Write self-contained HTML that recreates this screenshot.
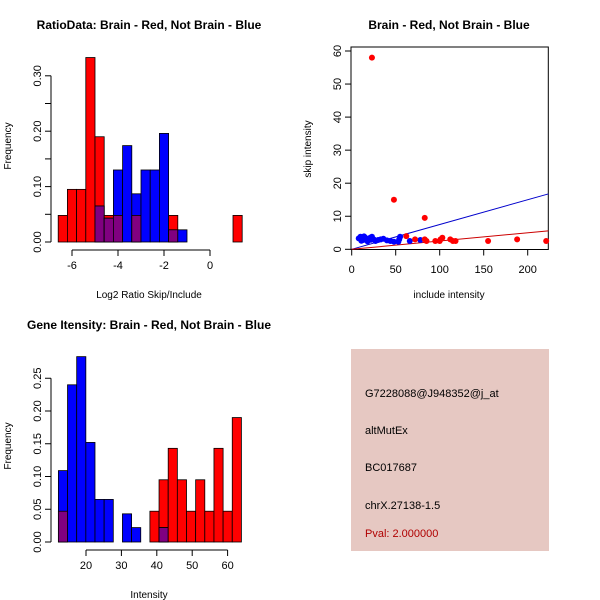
<!DOCTYPE html>
<html><head><meta charset="utf-8"><style>
body{margin:0;background:#fff;}
svg{display:block;font-family:"Liberation Sans",sans-serif;}
</style></head><body>
<svg id="c" width="600" height="600" viewBox="0 0 600 600">
<rect width="600" height="600" fill="#fff"/>
<g id="p1"></g>
<g id="p2"></g>
<g id="p3"></g>
<g>
<rect x="351" y="349" width="198" height="202" fill="#e6c8c2"/>
<text x="365" y="397" font-size="11">G7228088@J948352@j_at</text>
<text x="365" y="434" font-size="11">altMutEx</text>
<text x="365" y="471" font-size="11">BC017687</text>
<text x="365" y="509" font-size="11">chrX.27138-1.5</text>
<text x="365" y="537" font-size="11" fill="#b00000">Pval: 2.000000</text>
</g>
</svg>
<script>
// ---- Ratio histogram data ----
const ratioBinStart = -6.6, ratioBinWidth = 0.4;
const ratioRed  = [0.048,0.095,0.095,0.333,0.19,0.048,0.048,0,0.048,0,0,0,0.048,0,0,0,0,0,0,0.048];
const ratioBlue = [0,0,0,0,0.065,0.043,0.13,0.174,0.087,0.13,0.13,0.196,0.022,0.022,0,0,0,0,0,0];
const ratioXTicks = [-6,-4,-2,0];
const ratioYTicks = [0,0.05,0.10,0.15,0.20,0.25,0.30];
const ratioYLabels = ["0.00","","0.10","","0.20","","0.30"];
// ---- Gene intensity histogram data ----
const intBinStart = 12.2, intBinWidth = 2.585;
const intRed  = [0.047,0,0,0,0,0,0,0,0,0,0.047,0.095,0.143,0.095,0.047,0.095,0.047,0.143,0.047,0.19];
const intBlue = [0.109,0.24,0.283,0.152,0.065,0.065,0,0.043,0.022,0,0,0.022,0,0,0,0,0,0,0,0];
const intXTicks = [20,30,40,50,60];
const intYTicks = [0,0.05,0.10,0.15,0.20,0.25];
const intYLabels = ["0.00","0.05","0.10","0.15","0.20","0.25"];
// ---- Scatter data ----
const redX = [23,48,83,62,72,83,85,95,100,103,101,112,115,118,155,188,221];
const redY = [58,15,9.5,4,3,3,2.5,2.5,2.5,3.5,3,3,2.5,2.5,2.5,3,2.5];
const blueX = [8,10,12,13,15,17,19,21,23,25,27,30,33,36,40,44,48,53,55,54,66,78,11,14,18,22];
const blueY = [3.3,3.8,3.5,2.8,3.6,3.2,2.7,3.5,3.8,3,2.5,2.8,3,3.2,2.7,2.5,2.3,2.3,3.8,3,2.5,2.8,2.6,3.9,2.4,2.9];
const blueSlope = 0.075, redSlope = 0.025;
const scXTicks = [0,50,100,150,200];
const scYTicks = [0,10,20,30,40,50,60];

const NS="http://www.w3.org/2000/svg";
function el(parent,tag,attrs,txt){const e=document.createElementNS(NS,tag);for(const k in attrs)e.setAttribute(k,attrs[k]);if(txt!==undefined)e.textContent=txt;parent.appendChild(e);return e;}

function histogram(g,o){
  const sx=v=>o.x0+(v-o.xa)*o.kx, sy=v=>o.y0-v*o.ky;
  for(let i=0;i<o.red.length;i++){
    const a=o.start+i*o.w,b=a+o.w;
    const r=o.red[i],bl=o.blue[i],m=Math.min(r,bl);
    if(r>0){const e=el(g,'rect',{x:sx(a),y:sy(r),width:sx(b)-sx(a),height:sy(0)-sy(r),fill:'#ff0000',stroke:'#000','stroke-width':0.8});
      
      }
    if(bl>0){const e=el(g,'rect',{x:sx(a),y:sy(bl),width:sx(b)-sx(a),height:sy(0)-sy(bl),fill:'#0000ff',stroke:'#000','stroke-width':0.8});
      
      }
    if(m>0){const e=el(g,'rect',{x:sx(a),y:sy(m),width:sx(b)-sx(a),height:sy(0)-sy(m),fill:'#800080',stroke:'#000','stroke-width':0.8});
      
      }
  }
  // y axis
  const ya=el(g,'g',{});
  
  
  el(ya,'line',{x1:o.ax,x2:o.ax,y1:sy(o.yt[0]),y2:sy(o.yt[o.yt.length-1]),stroke:'#000'});
  o.yt.forEach((t,i)=>{el(ya,'line',{x1:o.ax-6,x2:o.ax,y1:sy(t),y2:sy(t),stroke:'#000'});
    if(o.yl[i]){const tx=el(ya,'text',{x:0,y:0,'font-size':11,'text-anchor':'middle',transform:`translate(${o.ax-10},${sy(t)}) rotate(-90)`},o.yl[i]);
      
      }});
  // x axis
  const xa=el(g,'g',{});
  
  
  el(xa,'line',{x1:sx(o.xt[0]),x2:sx(o.xt[o.xt.length-1]),y1:o.ay,y2:o.ay,stroke:'#000'});
  o.xt.forEach(t=>{el(xa,'line',{x1:sx(t),x2:sx(t),y1:o.ay,y2:o.ay+6,stroke:'#000'});
    const tx=el(xa,'text',{x:sx(t),y:o.ay+19,'font-size':11,'text-anchor':'middle'},String(t));
    
    });
  const ti=el(g,'text',{x:o.tx,y:o.ty,'font-size':12,'font-weight':'bold','text-anchor':'middle'},o.title);
  
  
  const xl=el(g,'text',{x:o.xlx,y:o.xly,'font-size':10,'text-anchor':'middle'},o.xlab);
  
  
  const yl=el(g,'text',{x:0,y:0,'font-size':10,'text-anchor':'middle',transform:`translate(11,${o.yly}) rotate(-90)`},'Frequency');
  
  
}

histogram(document.getElementById('p1'),{red:ratioRed,blue:ratioBlue,start:ratioBinStart,w:ratioBinWidth,
  xa:0,x0:210,kx:23,y0:242,ky:554,ax:51,ay:250,xt:ratioXTicks,yt:ratioYTicks,yl:ratioYLabels,
  title:'RatioData: Brain - Red, Not Brain - Blue',tx:149,ty:29,xlab:'Log2 Ratio Skip/Include',xlx:149,xly:298,yly:146});
histogram(document.getElementById('p3'),{red:intRed,blue:intBlue,start:intBinStart,w:intBinWidth,
  xa:20,x0:86,kx:3.54,y0:542,ky:655,ax:51,ay:550,xt:intXTicks,yt:intYTicks,yl:intYLabels,
  title:'Gene Itensity: Brain - Red, Not Brain - Blue',tx:149,ty:329,xlab:'Intensity',xlx:149,xly:598,yly:446});

// scatter
(function(){
  const g=document.getElementById('p2');
  const sx=v=>351.7+v*0.88, sy=v=>249.3-v*3.305;
  const L=351,R=548.3,T=47,B=249.5;
  el(g,'rect',{x:L,y:T,width:R-L,height:B-T,fill:'none',stroke:'#000'});
  const xmax=(R-351.7)/0.88;
  const bl=el(g,'line',{x1:sx(0),y1:sy(0),x2:sx(xmax),y2:sy(blueSlope*xmax),stroke:'#0000cc'});
  
  
  const rl=el(g,'line',{x1:sx(0),y1:sy(0),x2:sx(xmax),y2:sy(redSlope*xmax),stroke:'#cc0000'});
  
  
  blueX.forEach((x,i)=>{const c=el(g,'circle',{cx:sx(x),cy:sy(blueY[i]),r:3,fill:'#0000ff'});
    
    });
  redX.forEach((x,i)=>{const c=el(g,'circle',{cx:sx(x),cy:sy(redY[i]),r:3,fill:'#ff0000'});
    
    });
  scXTicks.forEach(t=>{el(g,'line',{x1:sx(t),x2:sx(t),y1:B,y2:B+6,stroke:'#000'});
    const tx=el(g,'text',{x:sx(t),y:273,'font-size':11,'text-anchor':'middle'},String(t));
    
    });
  scYTicks.forEach(t=>{el(g,'line',{x1:L-6,x2:L,y1:sy(t),y2:sy(t),stroke:'#000'});
    const tx=el(g,'text',{x:0,y:0,'font-size':11,'text-anchor':'middle',transform:`translate(${L-10},${sy(t)}) rotate(-90)`},String(t));
    
    });
  const ti=el(g,'text',{x:449,y:29,'font-size':12,'font-weight':'bold','text-anchor':'middle'},'Brain - Red, Not Brain - Blue');
  
  
  const xl=el(g,'text',{x:449,y:298,'font-size':10,'text-anchor':'middle'},'include intensity');
  
  
  const yl=el(g,'text',{x:0,y:0,'font-size':10,'text-anchor':'middle',transform:'translate(311,149) rotate(-90)'},'skip intensity');
  
  
})();
</script>
</body></html>
